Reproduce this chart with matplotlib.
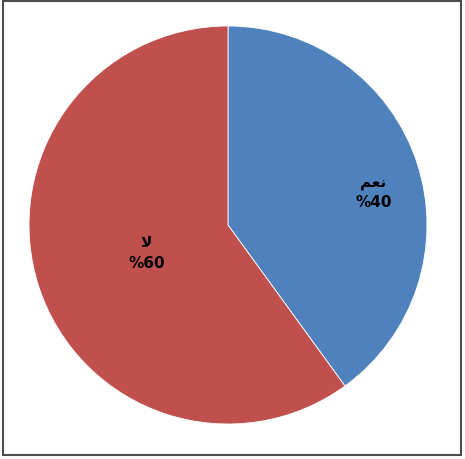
import matplotlib.pyplot as plt
from matplotlib.patches import Rectangle

# answers: yes / no (Arabic presentation forms so the glyphs join)
labels = ["\ufee2\ufecc\ufee7", "\ufefb"]   # نعم , لا
values = [40, 60]
colors = ["#4F81BD", "#C0504D"]

fig = plt.figure(figsize=(4.65, 4.59), dpi=100)
fig.patch.set_facecolor("white")

# outer frame
fig.add_artist(Rectangle((3 / 465, 4 / 459), 458 / 465, 454 / 459,
                         transform=fig.transFigure, fill=False,
                         edgecolor="#4d4d4d", linewidth=1.5))

ax = fig.add_axes([29 / 465, 35 / 459, 398 / 465, 398 / 459])
wedges, _ = ax.pie(values, colors=colors, startangle=90, counterclock=False,
                   wedgeprops=dict(edgecolor="white", linewidth=0.6))
ax.set_xlim(-1, 1)
ax.set_ylim(-1, 1)
ax.set_aspect("equal")

label_pos = [(0.73, 0.16), (-0.41, -0.14)]
spacing = [1.3, 1.45]
for lab, val, (x, y), ls in zip(labels, values, label_pos, spacing):
    ax.text(x, y, f"{lab}\n%{val}", ha="center", va="center",
            fontsize=11, fontweight="bold", color="black",
            linespacing=ls, family="DejaVu Sans")

fig.savefig("out.png", dpi=100)
